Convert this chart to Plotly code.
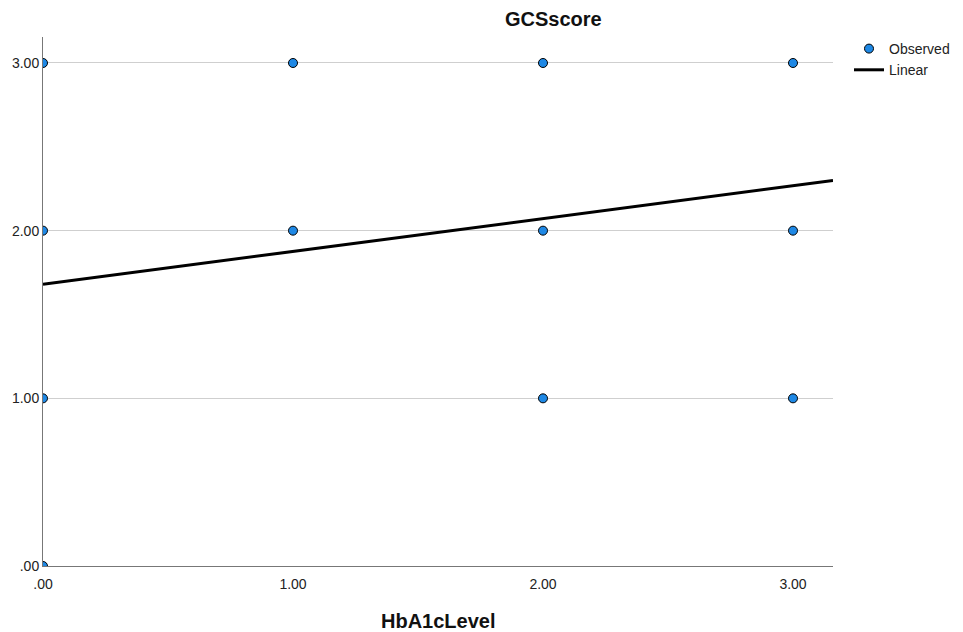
import plotly.graph_objects as go

# Observed data
obs_x = [0, 1, 2, 3, 0, 1, 2, 3, 0, 2, 3, 0]
obs_y = [3, 3, 3, 3, 2, 2, 2, 2, 1, 1, 1, 0]

# Linear fit
fit_intercept = 1.68
fit_slope = 0.196

tick_vals = [0, 1, 2, 3]
tick_text = [".00", "1.00", "2.00", "3.00"]

x_range = [0, 3.16]
y_range = [0, 3.155]

fit_x = x_range
fit_y = [fit_intercept + fit_slope * v for v in fit_x]

W, H = 963, 632
ML, MR, MT, MB = 43, 130, 37, 66
plot_w = W - ML - MR
plot_h = H - MT - MB


def px_x(p):
    return (p - ML) / plot_w


def px_y(p):
    return (H - MB - p) / plot_h


fig = go.Figure()
fig.add_trace(go.Scatter(
    x=fit_x, y=fit_y, mode="lines", name="Linear",
    line=dict(color="black", width=3), showlegend=True,
))
fig.add_trace(go.Scatter(
    x=obs_x, y=obs_y, mode="markers", name="Observed",
    marker=dict(size=9, color="#1e88e5", line=dict(color="black", width=1)),
    cliponaxis=True,
))

fig.update_layout(
    width=W, height=H,
    margin=dict(l=ML, r=MR, t=MT, b=MB, autoexpand=False),
    paper_bgcolor="white", plot_bgcolor="white",
    font=dict(family="Arial, Liberation Sans, sans-serif", size=14, color="#222"),
    showlegend=True,
    legend=dict(
        traceorder="reversed",
        x=px_x(849), xanchor="left", xref="paper",
        y=px_y(33), yanchor="top",
        font=dict(size=14, color="#222"),
        itemwidth=30, tracegroupgap=0,
        bgcolor="rgba(0,0,0,0)",
    ),
    xaxis=dict(
        range=x_range, tickvals=tick_vals, ticktext=tick_text,
        showgrid=False, zeroline=False,
        showline=True, linecolor="#777", linewidth=1,
        ticks="", ticklen=0, ticklabelstandoff=5,
        tickfont=dict(size=14, color="#222"),
        automargin=False,
    ),
    yaxis=dict(
        range=y_range, tickvals=tick_vals, ticktext=tick_text,
        showgrid=True, gridcolor="#cfcfcf", gridwidth=1,
        zeroline=False,
        showline=True, linecolor="#777", linewidth=1,
        ticks="", ticklen=0,
        tickfont=dict(size=14, color="#222"),
        automargin=False,
    ),
    annotations=[
        dict(text="<b>GCSscore</b>", x=px_x(553), y=px_y(19),
             xref="paper", yref="paper", xanchor="center", yanchor="middle",
             showarrow=False, font=dict(size=20, color="#111")),
        dict(text="<b>HbA1cLevel</b>", x=px_x(438), y=px_y(621),
             xref="paper", yref="paper", xanchor="center", yanchor="middle",
             showarrow=False, font=dict(size=20, color="#111")),
    ],
)

fig.write_html("out.html")
